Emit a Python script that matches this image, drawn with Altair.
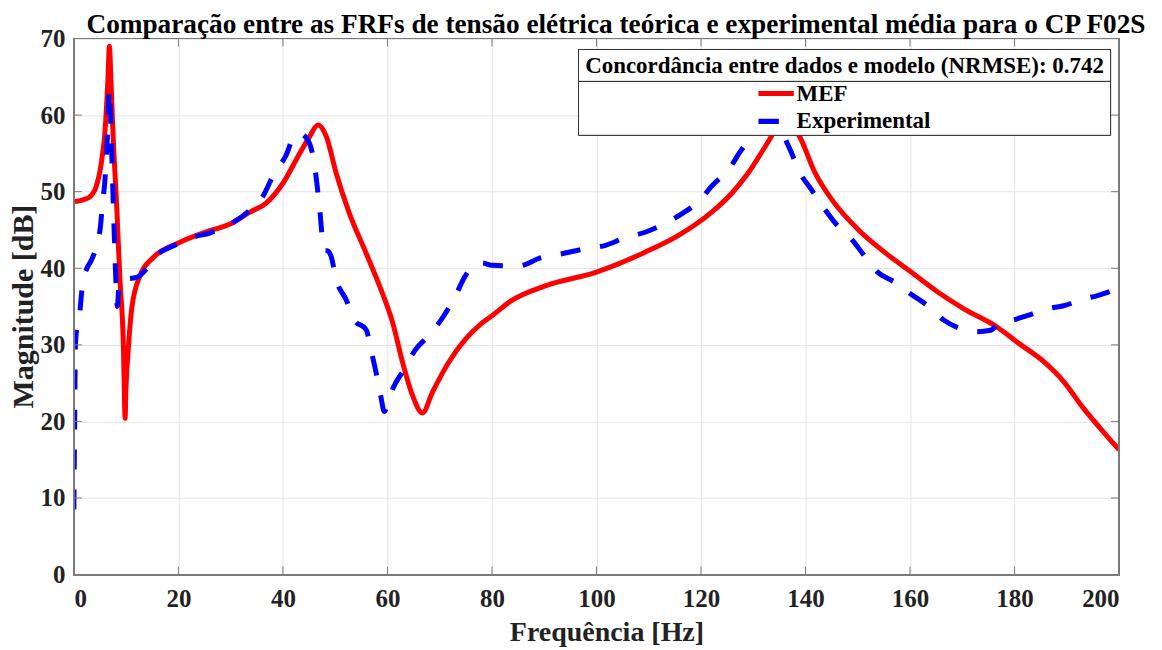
import altair as alt
import pandas as pd

# ---- data ----
mef_freq = [0, 1, 2, 3, 4, 4.5, 5, 5.5, 5.9, 6.2, 6.5, 6.8, 7.1, 7.5, 8.2, 8.8, 9.5, 9.65, 9.8, 9.95,
            10.4, 11.1, 12.7, 15.2, 20, 26, 30, 33.6, 36.8, 40, 43.2, 45.1, 46.7, 48.3, 50.2, 52.7,
            55.9, 59, 61, 62.9, 64.8, 66.7, 68.6, 71.7, 74.9, 78, 80, 83.8, 90.2, 100, 109.3, 115.7,
            122, 125.9, 129.1, 132.3, 134.5, 135.3, 136.5, 138.6, 141.8, 145, 150, 155.1,
            160.2, 165.3, 170.3, 176.7, 180.4, 185.6, 189.4, 193.2, 196.4, 200]
mef_db = [48.7, 48.8, 49.0, 49.3, 50.2, 51.2, 52.7, 55.0, 57.4, 60.5, 64.4, 69.0, 64.4, 57.4, 48.0,
          38.7, 29.3, 24.0, 20.4, 24.0, 29.3, 34.9, 39.1, 41.4, 43.3, 44.9, 45.8, 47.3, 48.5, 51.1,
          55.0, 57.2, 58.7, 57.2, 52.4, 47.2, 42.0, 36.8, 32.9, 27.7, 23.4, 21.1, 23.8, 27.7, 30.7,
          32.8, 33.8, 35.8, 37.7, 39.5, 42.1, 44.3, 47.3, 49.8, 52.5, 55.9, 58.3, 59.0, 58.8, 57.5,
          52.5, 49.0, 45.1, 42.1, 39.5, 36.9, 34.7, 32.3, 30.4, 27.8, 25.2, 21.7, 19.1, 16.3]

exp_freq = [0, 0.15, 0.3, 0.6, 1.0, 1.3, 1.8, 2.5, 3.3, 4.3, 5.0, 5.5, 6.0, 6.4, 6.8, 7.1, 7.4,
            7.7, 8.0, 8.3, 8.6, 9.0, 10, 12, 14, 16, 18, 20, 23, 26, 30, 33, 36, 38.5, 40.5, 42.2,
            43.2, 44.8, 46, 47, 47.9, 48.5, 49.2, 50.2, 52.1, 53.7, 55.9, 57.1, 58.1, 58.7, 59.4,
            60.2, 61, 63.2, 65.4, 67.9, 70.8, 73, 74.9, 76.5, 78, 80, 85, 89.5, 93.4, 97.5, 101.7,
            105.5, 109.3, 113, 116.3, 120, 122, 125.3, 127.8, 130.5, 133.5, 134.8, 137.3, 138.6,
            141.1, 143.7, 146.2, 148.8, 151.3, 153.8, 157, 160.2, 163.4, 166.5, 169.7, 172.6,
            175.4, 177, 180, 182.4, 186.2, 189.4, 193.2, 195.7, 200]
exp_db = [8.5, 20, 30, 32.2, 32.8, 35.5, 38.5, 40, 41, 42.8, 45, 48.5, 52, 57, 63.4, 58, 51.5,
          45, 39, 35, 37.5, 38.5, 38.6, 38.8, 40, 41.8, 42.6, 43.2, 44.1, 44.6, 45.8, 47.2, 49.2,
          52.6, 54.6, 57.3, 57.6, 56.7, 53.7, 48, 42.3, 42.3, 41.6, 38.5, 35.9, 33.2, 32, 28.6,
          25.5, 23.4, 21.3, 22.6, 24.2, 26.8, 29.4, 31.2, 33.8, 36.4, 39, 40.4, 40.7, 40.4, 40.3,
          41.4, 41.9, 42.5, 43, 44, 44.7, 45.8, 47.1, 49, 50.7, 52.9, 55.5, 57.5, 58.8, 58.3,
          55.1, 52.9, 50.3, 47.7, 45.5, 43.8, 41.6, 39.5, 38.2, 36.6, 35.1, 33.2, 32.1, 31.7,
          31.9, 32.8, 33.3, 33.8, 34.7, 35.1, 36, 36.4, 37.4]

x_ticks = [0, 20, 40, 60, 80, 100, 120, 140, 160, 180, 200]
y_ticks = [0, 10, 20, 30, 40, 50, 60, 70]

series_names = ["MEF", "Experimental"]
legend_title = "Concordância entre dados e modelo (NRMSE): 0.742"
chart_title = "Comparação entre as FRFs de tensão elétrica teórica e experimental média para o CP F02S"
x_title = "Frequência [Hz]"
y_title = "Magnitude [dB]"

# ---- layout ----
W, H = 1047, 537
FONT = "Liberation Serif"
BOX = "#7a7a7a"
RED = "#FF0000"
BLUE = "#0000FF"

xs = alt.Scale(domain=[0, 200], nice=False, zero=False)
ys = alt.Scale(domain=[0, 70], nice=False, zero=False)

mef = pd.DataFrame({"f": mef_freq, "m": mef_db})
exp = pd.DataFrame({"f": exp_freq, "m": exp_db})
xt = pd.DataFrame({"t": x_ticks})
yt = pd.DataFrame({"t": y_ticks})

axis_common = dict(grid=True, gridColor="#e4e4e4", gridWidth=1, domain=False, ticks=False,
                   labelFont=FONT, labelFontSize=25, labelFontWeight="bold", labelColor="#222222",
                   title=None)

red = alt.Chart(mef).mark_line(color=RED, strokeWidth=5, interpolate="monotone", clip=True).encode(
    x=alt.X("f:Q", scale=xs, axis=alt.Axis(values=x_ticks, labelPadding=12, **axis_common)),
    y=alt.Y("m:Q", scale=ys, axis=alt.Axis(values=y_ticks, labelPadding=9, **axis_common)),
)
blue = alt.Chart(exp).mark_line(color=BLUE, strokeWidth=5, strokeDash=[20, 20], strokeCap="butt",
                                interpolate="monotone", clip=True).encode(
    x=alt.X("f:Q", scale=xs),
    y=alt.Y("m:Q", scale=ys),
)

frame = alt.Chart(xt).mark_rect(fillOpacity=0, stroke=BOX, strokeWidth=1.2).encode(
    x=alt.value(0), x2=alt.value(W), y=alt.value(0), y2=alt.value(H))

tick_b = alt.Chart(xt).mark_rule(color=BOX, strokeWidth=1).encode(
    x=alt.X("t:Q", scale=xs), y=alt.value(H), y2=alt.value(H - 8))
tick_t = alt.Chart(xt).mark_rule(color=BOX, strokeWidth=1).encode(
    x=alt.X("t:Q", scale=xs), y=alt.value(0), y2=alt.value(8))
tick_l = alt.Chart(yt).mark_rule(color=BOX, strokeWidth=1).encode(
    y=alt.Y("t:Q", scale=ys), x=alt.value(0), x2=alt.value(8))
tick_r = alt.Chart(yt).mark_rule(color=BOX, strokeWidth=1).encode(
    y=alt.Y("t:Q", scale=ys), x=alt.value(W - 8), x2=alt.value(W))

# ---- legend (drawn on top of the lines) ----
lg = pd.DataFrame({"name": series_names})
leg_box = alt.Chart(lg).mark_rect(fill="white", stroke="#333333", strokeWidth=1).encode(
    x=alt.value(505.5), x2=alt.value(1038.5), y=alt.value(11), y2=alt.value(97))
leg_sep = alt.Chart(lg).mark_rule(color="#333333", strokeWidth=1).encode(
    x=alt.value(505.5), x2=alt.value(1038.5), y=alt.value(43))
leg_title = alt.Chart(pd.DataFrame({"t": [legend_title]})).mark_text(
    font=FONT, fontSize=23, fontWeight="bold", color="black", align="center", baseline="alphabetic"
).encode(text="t:N", x=alt.value(772), y=alt.value(35))
leg_red = alt.Chart(lg).mark_rule(color=RED, strokeWidth=5).encode(
    x=alt.value(686), x2=alt.value(721), y=alt.value(55))
leg_blue = alt.Chart(lg).mark_rule(color=BLUE, strokeWidth=5, strokeDash=[20, 20], strokeCap="butt").encode(
    x=alt.value(686), x2=alt.value(721), y=alt.value(83))
leg_t1 = alt.Chart(pd.DataFrame({"t": [series_names[0]]})).mark_text(
    font=FONT, fontSize=23, fontWeight="bold", color="black", align="left", baseline="alphabetic"
).encode(text="t:N", x=alt.value(724), y=alt.value(63))
leg_t2 = alt.Chart(pd.DataFrame({"t": [series_names[1]]})).mark_text(
    font=FONT, fontSize=23, fontWeight="bold", color="black", align="left", baseline="alphabetic"
).encode(text="t:N", x=alt.value(724), y=alt.value(90))

# ---- titles as text ----
title_t = alt.Chart(pd.DataFrame({"t": [chart_title]})).mark_text(
    font=FONT, fontSize=27.3, fontWeight="bold", color="black", align="center", baseline="alphabetic"
).encode(text="t:N", x=alt.value(543), y=alt.value(-6))
xlab = alt.Chart(pd.DataFrame({"t": [x_title]})).mark_text(
    font=FONT, fontSize=28, fontWeight="bold", color="#222222", align="center", baseline="alphabetic"
).encode(text="t:N", x=alt.value(534), y=alt.value(604))
ylab = alt.Chart(pd.DataFrame({"t": [y_title]})).mark_text(
    font=FONT, fontSize=30, fontWeight="bold", color="#222222", align="center", baseline="middle",
    angle=270
).encode(text="t:N", x=alt.value(-50), y=alt.value(H / 2))

chart = alt.layer(
    red, blue, frame, tick_b, tick_t, tick_l, tick_r,
    leg_box, leg_sep, leg_title, leg_red, leg_blue, leg_t1, leg_t2,
    title_t, xlab, ylab,
).properties(
    width=W, height=H,
    autosize=alt.AutoSizeParams(type="none"),
    padding={"left": 66, "top": 30, "right": 35, "bottom": 77},
).configure_view(stroke=None).configure(background="white")

chart.save("out.html", embed_options={"renderer": "svg", "actions": False})
